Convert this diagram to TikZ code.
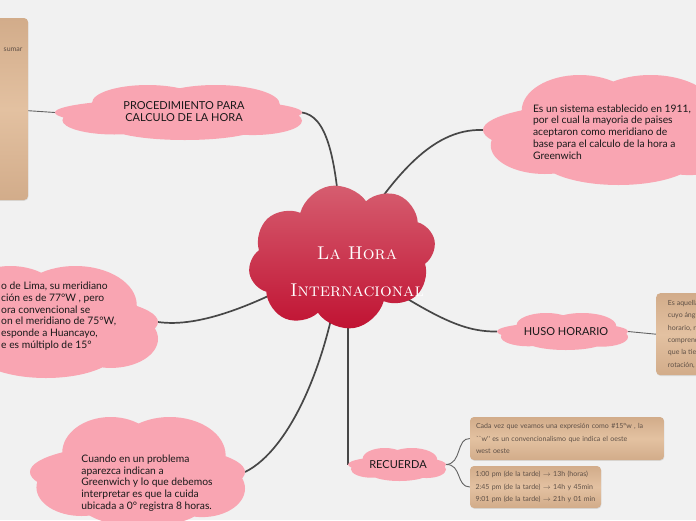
\documentclass[tikz,border=0pt]{standalone}
\usepackage{fontspec}
\newfontfamily\mapfont{Lato}
\usetikzlibrary{shapes.symbols, shadows, backgrounds, calc}

\definecolor{bgGrey}{HTML}{F1F1F1}
\definecolor{cloudPink}{HTML}{F9A5B2}
\definecolor{mainTop}{HTML}{D65E70}
\definecolor{mainBottom}{HTML}{C01232}
\definecolor{tanLight}{HTML}{E3C1A1}
\definecolor{tanDark}{HTML}{D2AC8A}
\definecolor{tanText}{HTML}{5F5046}
\definecolor{linkGrey}{HTML}{474747}

% pink cloud: centre x, centre y, width, height, name (gives name-w / name-e)
\newcommand{\puffcloud}[5]{%
    \fill [cloudPink, shift={(#1,#2)}, xscale=#3/2, yscale=#4/2]
        (0,0) ellipse [x radius=1, y radius=0.5]
        (-0.25,-0.35) ellipse [x radius=0.45, y radius=0.65]
        (0.3,-0.3) ellipse [x radius=0.52, y radius=0.7]
        (0.05,0.48) ellipse [x radius=0.62, y radius=0.52]
        (-0.52,0.28) ellipse [x radius=0.42, y radius=0.52]
        (0.6,0.3) ellipse [x radius=0.4, y radius=0.52];
    \coordinate (#5-w) at ({#1-#3/2},#2);
    \coordinate (#5-e) at ({#1+#3/2},#2);
}

\begin{document}
\begin{tikzpicture}[
    x=1pt, y=-1pt,          % pixel grid, y downwards
    cloudtext/.style={font=\mapfont\fontsize{10.3}{11.8}\selectfont, text=black!90, align=left, inner sep=0pt},
    capstext/.style={cloudtext, font=\mapfont\fontsize{11}{12}\selectfont, align=center},
    tanbox/.style={rectangle, rounded corners=4pt, top color=tanDark, bottom color=tanDark, middle color=tanLight,
                   drop shadow={opacity=0.2, shadow xshift=0.4pt, shadow yshift=-0.8pt}, inner sep=0pt},
    notetext/.style={font=\mapfont\fontsize{7}{12.4}\selectfont, text=tanText, align=left},
    mainlink/.style={draw=linkGrey, line width=1.7pt},
    sublink/.style={draw=linkGrey!85, line width=0.9pt}
]
    \useasboundingbox (0,0) rectangle (696,520);

    % --- 1. central cloud ---
    \node [cloud, cloud ignores aspect, cloud puffs=8, cloud puff arc=130, top color=mainTop, bottom color=mainBottom,
           minimum width=188pt, minimum height=144pt, inner sep=0pt, rotate=10] (main) at (342,257) {};
    \node [font=\fontsize{18.5}{37}\selectfont\scshape, text=white, align=center] (title) at (357,272) {La Hora\\Internacional};

    % --- 2. branch clouds ---
    \puffcloud{178.5}{112.5}{247}{55}{proc}
    \node [capstext] (proc) at (184,112) {PROCEDIMIENTO PARA\\CALCULO DE LA HORA};

    \puffcloud{612}{130}{258}{110}{sistema}
    \node [cloudtext] (sistema) at (612,132)
        {Es un sistema establecido en 1911,\\por el cual la mayoria de paises\\aceptaron como meridiano de\\base para el calculo de la hora a\\Greenwich};

    \puffcloud{562.5}{331.5}{131}{37}{huso}
    \node [capstext] (huso) at (566,332) {HUSO HORARIO};

    \puffcloud{40}{322}{236}{112}{lima}
    \node [cloudtext, anchor=west] (lima) at (1,316)
        {o de Lima, su meridiano\\ción es de 77°W , pero\\ora convencional se\\on el meridiano de 75°W,\\esponde a Huancayo,\\e es múltiplo de 15°};

    \puffcloud{137.5}{472}{215}{110}{cuando}
    \node [cloudtext] (cuando) at (147,483)
        {Cuando en un problema\\aparezca indican a\\Greenwich y lo que debemos\\interpretar es que la cuida\\ubicada a 0° registra 8 horas.};

    \puffcloud{397}{464.5}{98}{33}{recuerda}
    \node [capstext] (recuerda) at (398,465) {RECUERDA};

    % --- 3. note boxes ---
    \node [tanbox, minimum width=50pt, minimum height=182pt] (sumBox) at (3,109) {};
    \node [notetext, anchor=east] (sumTxt) at (26,50) {sumar};
    \node [tanbox, notetext, anchor=north west, minimum width=60pt, minimum height=82pt, inner xsep=5pt] (husoBox) at (656,293)
        {Es aquella\\cuyo ángul\\horario, rig\\comprendid\\que la tierr\\rotación, la};
    \node [tanbox, notetext, minimum width=194pt, minimum height=43pt, text width=182pt] (note1) at (567,438.5)
        {Cada vez que veamos una expresión como \#15°w , la\\``w'' es un convencionalismo que indica el oeste\\west oeste};
    \node [tanbox, notetext, minimum width=131pt, minimum height=42pt, text width=120pt] (note2) at (535.5,487)
        {1:00 pm (de la tarde) $\rightarrow$ 13h (horas)\\2:45 pm (de la tarde) $\rightarrow$ 14h y 45min\\9:01 pm (de la tarde) $\rightarrow$ 21h y 01 min};

    % --- 4. connectors (behind the clouds) ---
    \begin{pgfonlayer}{background}
        \fill [bgGrey] (0,0) rectangle (696,520);
        \draw [mainlink] (main.center) .. controls (338,150) and (325,116) .. (proc-e);
        \draw [mainlink] (main.center) .. controls (390,180) and (430,128) .. (sistema-w);
        \draw [mainlink] (main.center) .. controls (430,315) and (460,332) .. (huso-w);
        \draw [mainlink] (main.center) .. controls (260,305) and (200,328) .. (lima-e);
        \draw [mainlink] (main.center) .. controls (330,360) and (290,450) .. (cuando-e);
        \draw [mainlink] (recuerda-w) -- (recuerda-w |- main.center);
        \draw [sublink] (sumBox) -- (proc-w);
        \draw [sublink] (huso-e) -- (husoBox.west);
        \draw [sublink] (recuerda-e) .. controls (462,464) and (456,438) .. (note1.west);
        \draw [sublink] (recuerda-e) .. controls (462,464) and (456,487) .. (note2.west);
    \end{pgfonlayer}

\end{tikzpicture}
\end{document}
